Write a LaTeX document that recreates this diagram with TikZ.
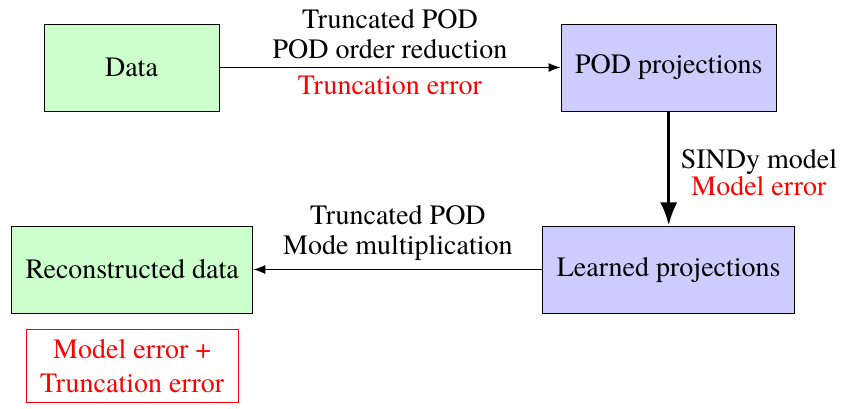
\documentclass[tikz,border=0pt]{standalone}
\usepackage{fontspec}
\newfontfamily\diagfont{texgyretermes-regular.otf}
\usetikzlibrary{positioning,arrows.meta}

\begin{document}
\begin{tikzpicture}[node distance=1cm,
      every node/.style={font=\diagfont\fontsize{11.2}{12}\selectfont},
      block/.style={rectangle, draw, minimum height=34.8pt, inner xsep=5.6pt},
      rawbox/.style={block, fill=green!20},
      projbox/.style={block, fill=blue!20},
      errbox/.style={rectangle, draw=red, text=red, inner xsep=5.6pt,
                     inner ysep=3.8pt, align=center,
                     font=\diagfont\fontsize{11.2}{13.6}\selectfont}]
    \useasboundingbox (0,0) rectangle (336.8pt,-163.2pt);
    \node[rawbox, minimum width=70pt] (data) at (52.6pt,-27pt) {Data};
    \node[projbox, right=136.4pt of data] (pod) {POD projections};
    \node[projbox, below=45.6pt of pod] (learned) {Learned projections};
    \node[rawbox, left=115.6pt of learned] (recon) {Reconstructed data};
    \node[errbox, below=6.3pt of recon] (err) {Model error +\\Truncation error};
    \draw[-{Latex}] (data) -- node[above, align=center]
      {Truncated POD\\POD order reduction}
      node[below, text=red] {Truncation error} (pod);
    \draw[-{Latex}, line width=1.4pt] (pod) -- node[right, align=center,
      xshift=0.8pt, yshift=-1.6pt]
      {SINDy model\\[-1.3pt]\textcolor{red}{Model error}} (learned);
    \draw[-{Latex}] (learned) -- node[above, align=center]
      {Truncated POD\\Mode multiplication} (recon);
  \end{tikzpicture}
\end{document}
